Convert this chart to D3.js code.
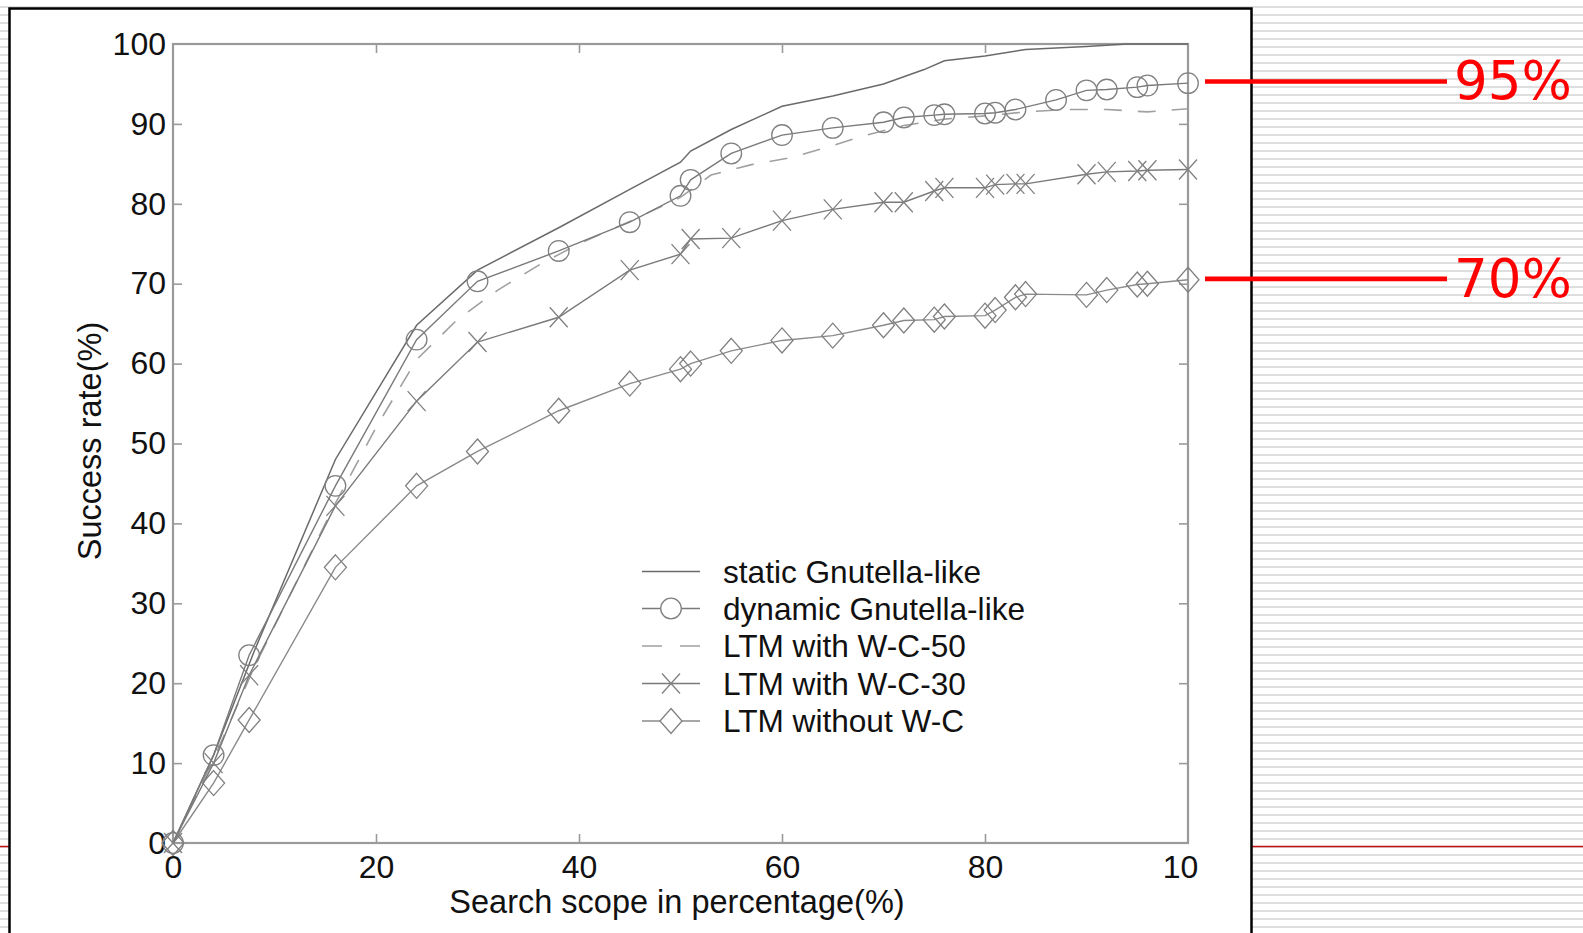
<!DOCTYPE html>
<html><head><meta charset="utf-8">
<script src="https://cdn.jsdelivr.net/npm/d3@7"></script>
<style>body{margin:0;background:#fff}svg{display:block}</style>
</head><body>
<svg id="c" width="1583" height="933"></svg>
<script>
// ---- data ----
const seriesNames = ["static Gnutella-like","dynamic Gnutella-like","LTM with W-C-50","LTM with W-C-30","LTM without W-C"];
const staticX  = [0,4,8,16,24,30,38,45,50,51,55,60,65,70,74,76,80,84,90,94,100];
const staticY  = [0,11,24,48,64.8,71.7,77,81.8,85.2,86.6,89.3,92.2,93.5,95,96.8,97.9,98.5,99.3,99.7,100,100];
const dynamicX = [0,4,7.5,16,24,30,38,45,50,51,55,60,65,70,72,75,76,80,81,83,87,90,92,95,96,100];
const dynamicY = [0,11,23.5,44.7,63,70.3,74.1,77.7,81,83,86.3,88.6,89.5,90.2,90.8,91.1,91.2,91.3,91.4,91.8,93,94.2,94.3,94.6,94.8,95.1];
const wc50X    = [0,4,8,16,20,24,28,32,36,40,45,50,53,57,61,65,68,72,76,80,84,88,92,96,100];
const wc50Y    = [0,10.5,22,42.5,52,60.5,65.5,69.2,72.3,75,77.8,80.8,83.6,84.9,85.8,87.3,88.5,89.8,90.6,91,91.5,91.8,91.8,91.5,91.9];
const wc30X    = [0,4,7.5,16,24,30,38,45,50,51,55,60,65,70,72,75,76,80,81,83,84,90,92,95,96,100];
const wc30Y    = [0,10,21,42.2,55.3,62.7,65.8,71.7,73.7,75.6,75.7,77.9,79.3,80.2,80.2,81.6,82,82,82.4,82.5,82.5,83.7,84,84.1,84.2,84.3];
const noWcX    = [0,4,7.5,16,24,30,38,45,50,51,55,60,65,70,72,75,76,80,81,83,84,90,92,95,96,100];
const noWcY    = [0,7.5,15.4,34.5,44.7,49,54.1,57.5,59.3,60,61.6,62.9,63.5,64.8,65.4,65.5,65.9,66,66.7,68.3,68.7,68.6,69.2,69.9,70,70.5];
const xTickValues = [0,20,40,60,80,100];
const xTickLabels = ["0","20","40","60","80","10"];
const yTickValues = [0,10,20,30,40,50,60,70,80,90,100];
const annotValues = [95.3,70.6];
const annotLabels = ["95%","70%"];
const xTitle = "Search scope in percentage(%)";
const yTitle = "Success rate(%)";

// ---- setup ----
const W=1583,H=933;
const svg=d3.select("#c");
const FONT="'Liberation Sans', Arial, Helvetica, sans-serif";

// background stripes
const defs=svg.append("defs");
const pat=defs.append("pattern").attr("id","stripes").attr("patternUnits","userSpaceOnUse")
  .attr("width",8).attr("height",8);
pat.append("rect").attr("width",8).attr("height",8).attr("fill","#fff");
pat.append("rect").attr("y",6).attr("width",8).attr("height",2.4).attr("fill","#dedede");
svg.append("rect").attr("width",W).attr("height",H).attr("fill","url(#stripes)");
// thin red rule
svg.append("line").attr("x1",0).attr("x2",W).attr("y1",846.5).attr("y2",846.5)
  .attr("stroke","#c01010").attr("stroke-width",1.3);
// frame
svg.append("rect").attr("x",9.5).attr("y",8.5).attr("width",1242).attr("height",H+20)
  .attr("fill","#fff").attr("stroke","#000").attr("stroke-width",2.5);

const x=d3.scaleLinear().domain([0,100]).range([173,1188]);
const y=d3.scaleLinear().domain([0,100]).range([843,44]);

// axes box
const AX="#9a9a9a";
svg.append("rect").attr("x",x(0)).attr("y",y(100)).attr("width",x(100)-x(0)).attr("height",y(0)-y(100))
  .attr("fill","none").attr("stroke",AX).attr("stroke-width",2.2);

function styleAxis(g){
  g.select(".domain").remove();
  g.selectAll(".tick line").attr("stroke",AX).attr("stroke-width",1.6);
  g.selectAll("text").attr("fill","#111").style("font-family",FONT).style("font-size","32px");
}
const gB=svg.append("g").attr("transform",`translate(0,${y(0)})`)
  .call(d3.axisBottom(x).tickValues(xTickValues).tickFormat((d,i)=>xTickLabels[i]).tickSizeInner(-9).tickSizeOuter(0).tickPadding(12));
styleAxis(gB);
gB.selectAll(".tick").filter(d=>d===100).select("text").attr("dx",-8);
gB.selectAll(".tick").filter(d=>d===0||d===100).select("line").remove();
const gT=svg.append("g").attr("transform",`translate(0,${y(100)})`)
  .call(d3.axisTop(x).tickValues(xTickValues.slice(1,-1)).tickFormat("").tickSizeInner(-9).tickSizeOuter(0));
styleAxis(gT);
const gL=svg.append("g").attr("transform",`translate(${x(0)},0)`)
  .call(d3.axisLeft(y).tickValues(yTickValues).tickFormat(d3.format("d")).tickSizeInner(-9).tickSizeOuter(0).tickPadding(7));
styleAxis(gL);
gL.selectAll(".tick").filter(d=>d===0||d===100).select("line").remove();
const gR=svg.append("g").attr("transform",`translate(${x(100)},0)`)
  .call(d3.axisRight(y).tickValues(yTickValues.slice(1,-1)).tickFormat("").tickSizeInner(-9).tickSizeOuter(0));
styleAxis(gR);

// titles
svg.append("text").attr("x",677).attr("y",913).attr("text-anchor","middle")
  .style("font-family",FONT).style("font-size","32.5px").attr("fill","#111").text(xTitle);
svg.append("text").attr("transform","translate(101,441) rotate(-90)").attr("text-anchor","middle")
  .style("font-family",FONT).style("font-size","32.5px").attr("fill","#111").text(yTitle);

// markers
function markerPath(type,cx,cy){
  const p=d3.path();
  if(type==="circle"){ p.moveTo(cx+10.3,cy); p.arc(cx,cy,10.3,0,2*Math.PI); }
  else if(type==="diamond"){ p.moveTo(cx,cy-12.5); p.lineTo(cx+11,cy); p.lineTo(cx,cy+12.5); p.lineTo(cx-11,cy); p.closePath(); }
  else if(type==="x"){ const a=9,b=10; p.moveTo(cx-a,cy-b); p.lineTo(cx+a,cy+b); p.moveTo(cx-a,cy+b); p.lineTo(cx+a,cy-b); }
  return p.toString();
}

const seriesData=[
  {name:seriesNames[0],xs:staticX,ys:staticY,stroke:"#6a6a6a",dash:null,marker:null,w:1.5},
  {name:seriesNames[1],xs:dynamicX,ys:dynamicY,stroke:"#7a7a7a",dash:null,marker:"circle",w:1.4},
  {name:seriesNames[2],xs:wc50X,ys:wc50Y,stroke:"#a0a0a0",dash:"18,16",marker:null,w:1.6},
  {name:seriesNames[3],xs:wc30X,ys:wc30Y,stroke:"#7a7a7a",dash:null,marker:"x",w:1.4},
  {name:seriesNames[4],xs:noWcX,ys:noWcY,stroke:"#8a8a8a",dash:null,marker:"diamond",w:1.4}
];
const line=d3.line().x(d=>x(d[0])).y(d=>y(d[1]));
const plot=svg.append("g");
[2,0,4,3,1].forEach(i=>{
  const s=seriesData[i];
  const pts=s.xs.map((v,j)=>[v,s.ys[j]]);
  plot.append("path").attr("d",line(pts)).attr("fill","none").attr("stroke",s.stroke)
    .attr("stroke-width",s.w).attr("stroke-dasharray",s.dash);
  if(s.marker){
    plot.selectAll(null).data(pts).enter().append("path")
      .attr("d",d=>markerPath(s.marker,x(d[0]),y(d[1])))
      .attr("fill","none").attr("stroke","#808080").attr("stroke-width",1.3);
  }
});

// legend
const lg=svg.append("g");
const rowY=[571.5,608.5,646,683.5,721];
seriesData.forEach((s,i)=>{
  const ry=rowY[i];
  lg.append("line").attr("x1",642).attr("x2",700).attr("y1",ry).attr("y2",ry)
    .attr("stroke",s.stroke).attr("stroke-width",s.w).attr("stroke-dasharray",s.dash?"20,18":null);
  if(s.marker) lg.append("path").attr("d",markerPath(s.marker,671,ry)).attr("fill","#fff")
    .attr("stroke","#808080").attr("stroke-width",1.3);
  lg.append("text").attr("x",723).attr("y",ry).attr("dy","0.36em")
    .style("font-family",FONT).style("font-size","31.6px").attr("fill","#111").text(s.name);
});

// red annotations
annotValues.forEach((v,i)=>{
  const ay=y(v);
  svg.append("line").attr("x1",1205).attr("x2",1447).attr("y1",ay).attr("y2",ay)
    .attr("stroke","#ff0000").attr("stroke-width",4.6);
  svg.append("text").attr("x",1454).attr("y",ay+17.6)
    .style("font-family","'DejaVu Sans', sans-serif").style("font-size","53px").attr("fill","#ff0000")
    .text(annotLabels[i]);
});
</script>
</body></html>
